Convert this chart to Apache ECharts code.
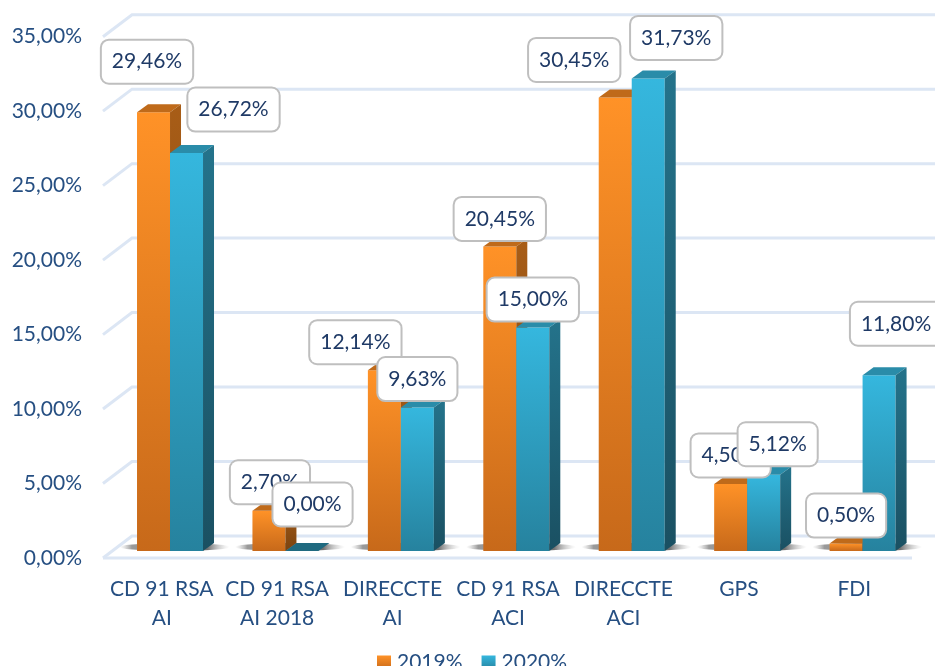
<!DOCTYPE html>
<html><head><meta charset="utf-8">
<style>html,body{margin:0;padding:0;background:#fff;overflow:hidden}#c{width:935px;height:666px}</style>
<script src="https://cdn.jsdelivr.net/npm/echarts@6/dist/echarts.min.js"></script>
</head><body><div id="c"></div>
<script>
const categories = ['CD 91 RSA\nAI','CD 91 RSA\nAI 2018','DIRECCTE\nAI','CD 91 RSA\nACI','DIRECCTE\nACI','GPS','FDI'];
const values2019 = [29.46,2.70,12.14,20.45,30.45,4.50,0.50];
const values2020 = [26.72,0.00,9.63,15.00,31.73,5.12,11.80];
const wallTicks = [0,5,10,15,20,25,30,35];
// label box offsets from the top centre of each bar
const labelOffset2019 = [[-6.5,-50.5],[1,-28.5],[-29,-28],[0,-27.5],[-41,-37.5],[0,-28.5],[0,-28]];
const labelOffset2020 = [[47,-43.5],[10.6,-46.5],[0,-28.5],[0,-28],[28,-40.5],[14,-30.5],[17,-51.5]];

const LG = (a,b)=>new echarts.graphic.LinearGradient(0,0,0,1,[{offset:0,color:a},{offset:1,color:b}]);
const BAR_W = 33, DX = 11, DY = -8, FRONT_GAP = 7, WALL_DX = 29, WALL_DY = -22;
const palette = {
  y2019:{front:['#FF9227','#C7691A'],side:['#A85D17','#7A4310'],top:'#BF6A1A'},
  y2020:{front:['#35B7DE','#26829E'],side:['#24738B','#1A5062'],top:'#2A8CA9',flat:'#1F6A80'}
};
const fmt = v => v.toFixed(2).replace('.',',')+'%';

function barSeries(name, values, offsets, pal, shift, zBase, withShadow){
  return {
    type:'custom', name, coordinateSystem:'cartesian2d', clip:false,
    itemStyle:{color:LG(pal.front[0],pal.front[1])},
    encode:{x:0,y:1},
    data: values.map((v,i)=>[i,v]),
    renderItem(params, api){
      const i = api.value(0), v = api.value(1);
      const c = api.coord([i,v]), c0 = api.coord([i,0]);
      const x = c[0]+shift, top = c[1]-FRONT_GAP, base = c0[1]-FRONT_GAP;
      const kids = [];
      if (withShadow){
        kids.push({type:'ellipse',z2:0,shape:{cx:c[0]+13,cy:base-4,rx:55,ry:4},
          style:{fill:new echarts.graphic.LinearGradient(0,0,1,0,[
            {offset:0,color:'rgba(200,200,200,0)'},{offset:.11,color:'#9a9a9a'},{offset:.8,color:'#707070'},{offset:1,color:'rgba(200,200,200,0)'}])}});
      }
      if (base-top>0.1){
        kids.push({type:'rect',z2:zBase,shape:{x,y:top,width:BAR_W,height:base-top},
          style:{fill:LG(pal.front[0],pal.front[1])}});
      }
      kids.push({type:'polygon',z2:zBase,shape:{points:[[x,top],[x+DX,top+DY],[x+BAR_W+DX,top+DY],[x+BAR_W,top]]},
        style:{fill:v===0?pal.flat:pal.top}});
      if (base-top>0.1){
        kids.push({type:'polygon',z2:zBase,shape:{points:[[x+BAR_W,top],[x+BAR_W+DX,top+DY],[x+BAR_W+DX,base+DY],[x+BAR_W,base]]},
          style:{fill:LG(pal.side[0],pal.side[1])}});
      }
      const off = offsets[i];
      kids.push({type:'text',z2:zBase+20,
        style:{x:x+BAR_W/2+off[0],y:top+off[1],text:fmt(v),align:'center',verticalAlign:'middle',
          font:'21px Lato',fill:'#1F3A66',backgroundColor:'#fff',borderColor:'#BFBFBF',borderWidth:2,borderRadius:7,
          padding:[9,10,9,10],lineHeight:24}});
      return {type:'group',children:kids};
    }
  };
}

const chart = echarts.init(document.getElementById('c'),null,{renderer:'canvas'});
chart.setOption({
  animation:false,
  backgroundColor:'#fff',
  grid:{left:104,right:23,top:36.7,bottom:108},
  legend:{left:377,top:652,itemWidth:14,itemHeight:14,itemGap:19,icon:'rect',padding:0,
    textStyle:{fontFamily:'Lato',fontSize:21,color:'#264F82',padding:[1,0,0,1]},
    itemStyle:{borderWidth:0},
    data:['2019%','2020%']},
  xAxis:{type:'category',data:categories,axisLine:{show:false},axisTick:{show:false},
    axisLabel:{interval:0,fontFamily:'Lato',fontSize:21,color:'#264F82',lineHeight:29,margin:17}},
  yAxis:{type:'value',min:0,max:35,interval:5,axisLine:{show:false},axisTick:{show:false},splitLine:{show:false},
    axisLabel:{fontFamily:'Lato',fontSize:21,color:'#264F82',margin:22,padding:[2,0,0,0],formatter:v=>v.toFixed(2).replace('.',',')+'%'}},
  series:[
    {type:'custom',name:'wall',coordinateSystem:'cartesian2d',clip:false,silent:true,
      data:wallTicks.map(v=>[0,v]),encode:{x:0,y:1},
      renderItem(params,api){
        const y = api.coord([0,api.value(1)])[1];
        const x0 = params.coordSys.x-1, x1 = params.coordSys.x+params.coordSys.width;
        const st = {stroke:'#DCE6F4',lineWidth:3,fill:null};
        const kids = [{type:'polyline',z2:-1,shape:{points:[[x0,y],[x0+WALL_DX,y+WALL_DY],[935,y+WALL_DY]]},style:st}];
        if (api.value(1)===0) kids.push({type:'line',z2:-1,shape:{x1:x0,y1:y,x2:x1,y2:y},style:st});
        return {type:'group',children:kids};
      }},
    barSeries('2019%',values2019,labelOffset2019,palette.y2019,8.3-BAR_W,1,true),
    barSeries('2020%',values2020,labelOffset2020,palette.y2020,8.3,2,false)
  ]
});
</script></body></html>
